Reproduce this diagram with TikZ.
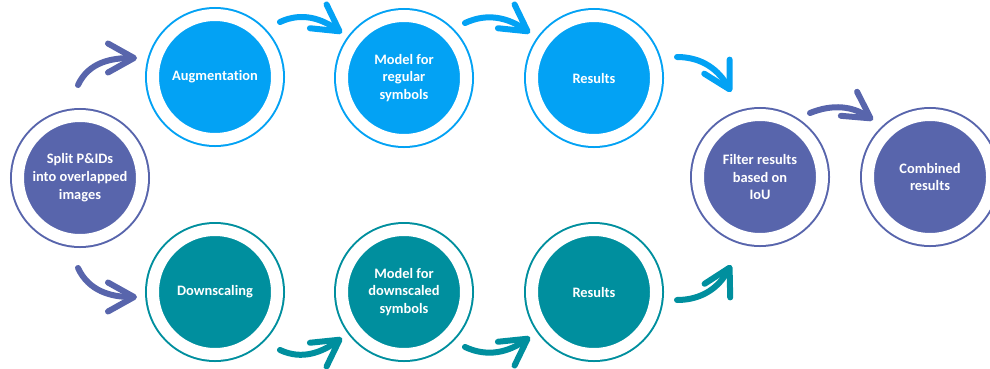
\documentclass[tikz,border=0pt]{standalone}
\usepackage{fontspec}
\setmainfont{Carlito}[Ligatures=NoCommon]
\usetikzlibrary{calc, positioning, arrows.meta}
\definecolor{regblue}{RGB}{3,162,244}
\definecolor{downteal}{RGB}{0,143,158}
\definecolor{mergeblue}{RGB}{88,101,172}
\tikzset{
  font=\bfseries\fontsize{8.2}{10.2}\selectfont,
  % Set arrowhead
  >={Straight Barb[length=5.2mm, width=5.8mm, round]},
  % Stage: filled disc inside a thin ring
  stage/.style={shape=circle, fill=#1, draw=#1, double=white,
    double distance=2.4mm, line width=0.4mm, minimum size=24.8mm,
    inner sep=0pt, outer sep=0pt, text=white, align=center},
  % Thick curved flow arrow
  flow/.style={->, draw=#1, line width=1.2mm, line cap=round},
}

\begin{document}
\begin{tikzpicture}[x=0.2mm, y=0.2mm]
  \useasboundingbox (0,0) rectangle (990,368);

  \node[stage=mergeblue] (split) at (80,190) {Split P\&IDs\\into overlapped\\images};

  % regular branch
  \node[stage=regblue] (aug) at (215,291) {Augmentation};
  \node[stage=regblue] (regmodel) at (404,290) {Model for\\regular\\symbols};
  \node[stage=regblue] (regres) at (594,290) {Results};

  % downscaled branch
  \node[stage=downteal] (down) at (215,76) {Downscaling};
  \node[stage=downteal] (downmodel) at (404,76) {Model for\\downscaled\\symbols};
  \node[stage=downteal] (downres) at (594,76) {Results};

  \node[stage=mergeblue] (filter) at (760,191) {Filter results\\based on\\IoU};
  \node[stage=mergeblue] (comb) at (930,191) {Combined\\results};

  \draw[flow=mergeblue] ($(split)+(-2,93)$) to[out=65, in=180] ($(aug)+(-78,19)$);
  \draw[flow=mergeblue] ($(split)+(-2,-90)$) to[out=-65, in=180] ($(down)+(-78,-5)$);

  \draw[flow=regblue] ($(aug)+(65,55)$) to[out=25, in=145] ($(regmodel)+(-62,45)$);
  \draw[flow=regblue] ($(regmodel)+(61,55)$) to[out=25, in=145] ($(regres)+(-64,45)$);
  \draw[flow=regblue] ($(regres)+(83,21)$) to[out=0, in=119] ($(filter)+(-29,85)$);

  \draw[flow=downteal] ($(down)+(65,-58)$) to[out=-25, in=-145] ($(downmodel)+(-62,-46)$);
  \draw[flow=downteal] ($(downmodel)+(61,-55)$) to[out=-25, in=-145] ($(downres)+(-64,-45)$);
  \draw[flow=downteal] ($(downres)+(83,-8)$) to[out=0, in=-118] ($(filter)+(-29,-88)$);

  \draw[flow=mergeblue] ($(filter)+(50,64)$) to[out=22, in=146] ($(comb)+(-57,57)$);
\end{tikzpicture}
\end{document}
